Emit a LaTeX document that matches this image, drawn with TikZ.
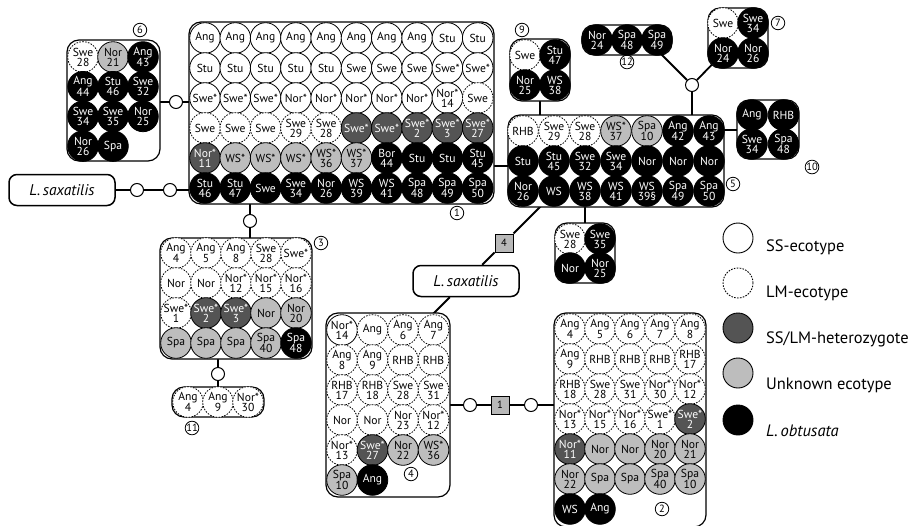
\documentclass[tikz,border=0pt]{standalone}
\usepackage{fontspec}
\setmainfont{PT Sans}
\usetikzlibrary{backgrounds,fit}
\definecolor{hetgray}{gray}{0.33}
\definecolor{unkgray}{gray}{0.74}
\definecolor{sqgray}{gray}{0.72}
\newcommand\cellfont{\fontsize{11.6}{10}\selectfont}
\newcommand\numfont{\fontsize{10.5}{11}\selectfont}
\newcommand\specfont{\fontsize{15.5}{16}\selectfont\itshape}
\newcommand\legfont{\fontsize{16.5}{18}\selectfont}
\newcommand\cellgrid[6]{%
  \foreach \row [count=\j] in {#6} {
    \foreach \st/\tx [count=\i] in \row {
      \node[cell,\st] (#1-\j-\i) at ({#2+(\i-1)*#4},{#3+(\j-1)*#5}) {\tx};
    }
  }%
}
\tikzset{
  cell/.style={circle, minimum size=30.6pt, inner sep=0pt, align=center, font=\cellfont, line width=0.8pt},
  ss/.style={draw=black, fill=white},
  lm/.style={draw=black, fill=white, dash pattern=on 1.6pt off 1.3pt},
  het/.style={draw=black, fill=hetgray, text=white},
  unk/.style={draw=black, fill=unkgray},
  obt/.style={draw=black, fill=black, text=white},
  grp/.style={draw=black, line width=1.2pt, rounded corners=12pt, fill=white, inner sep=0pt},
  conn/.style={line width=1.8pt},
  jn/.style={circle, draw, fill=white, line width=1pt, minimum size=13pt, inner sep=0pt},
  num/.style={circle, draw, line width=0.8pt, minimum size=13.5pt, inner sep=0pt, font=\numfont},
  spec/.style={draw, line width=1.5pt, rounded corners=8pt, fill=white, font=\specfont, minimum width=106pt, minimum height=31pt, inner sep=0pt},
  sq/.style={draw, fill=sqgray, line width=1pt, minimum size=18pt, inner sep=0pt, font=\numfont},
  legc/.style={circle, minimum size=30pt, inner sep=0pt, line width=0.9pt},
  legt/.style={anchor=west, font=\legfont, inner sep=0pt}
}
\begin{document}
\begin{tikzpicture}[x=1pt, y=-1pt]
\clip (0,0) rectangle (920,525);

% ---- group boxes ----
\node[grp, fit={(67,40) (160,161)}] (b6) {};
\node[grp, fit={(189,22) (494,204)}] (b1) {};
\node[grp, fit={(510,39) (570,101)}] (b9) {};
\node[grp, fit={(582,25) (672,55)}] (b12) {};
\node[grp, fit={(708,8) (768,68)}] (b7) {};
\node[grp, fit={(737,100) (799,159)}] (b10) {};
\node[grp, fit={(508,115) (724,207)}] (b5) {};
\node[grp, fit={(555,223) (615,283)}] (b8) {};
\node[grp, fit={(160,238) (312,359)}] (b3) {};
\node[grp, fit={(172,387) (264,417)}] (b11) {};
\node[grp, fit={(326,313) (450,497)}] (b4) {};
\node[grp, fit={(554,313) (706,527)}] (b2) {};

% ---- cells ----
\cellgrid{c6}{83}{57}{30}{29.7}{
 {lm/Swe\\28, unk/Nor\\21, obt/Ang\\43},
 {obt/Ang\\44, obt/Stu\\46, obt/Swe\\32},
 {obt/Swe\\34, obt/Swe\\35, obt/Nor\\25},
 {obt/Nor\\26, obt/Spa}}

\cellgrid{c1}{205}{38}{30.3}{30}{
 {ss/Ang, ss/Ang, ss/Ang, ss/Ang, ss/Ang, ss/Ang, ss/Ang, ss/Ang, ss/Stu, ss/Stu},
 {ss/Stu, ss/Stu, ss/Stu, ss/Stu, ss/Stu, ss/Swe, ss/Swe, ss/Swe, ss/Swe*, ss/Swe*},
 {ss/Swe*, ss/Swe*, ss/Swe*, ss/Nor*, ss/Nor*, ss/Nor*, ss/Nor*, ss/Nor*, ss/Nor*\\14, lm/Swe},
 {lm/Swe, lm/Swe, lm/Swe, lm/Swe\\29, lm/Swe\\28, het/Swe*, het/Swe*, het/Swe*\\2, het/Swe*\\3, het/Swe*\\27},
 {het/Nor*\\11, unk/WS*, unk/WS*, unk/WS*, unk/WS*\\36, unk/WS*\\37, obt/Bor\\44, obt/Stu, obt/Stu, obt/Stu\\45},
 {obt/Stu\\46, obt/Stu\\47, obt/Swe, obt/Swe\\34, obt/Nor\\26, obt/WS\\39, obt/WS\\41, obt/Spa\\48, obt/Spa\\49, obt/Spa\\50}}

\cellgrid{c9}{525}{55}{30}{30}{
 {lm/Swe, obt/Stu\\47},
 {obt/Nor\\25, obt/WS\\38}}

\cellgrid{c12}{597}{40}{30}{30}{
 {obt/Nor\\24, obt/Spa\\48, obt/Spa\\49}}

\cellgrid{c7}{723}{23}{30}{30}{
 {lm/Swe, obt/Swe\\34},
 {obt/Nor\\24, obt/Nor\\26}}

\cellgrid{c10}{752}{115}{31.5}{29}{
 {obt/Ang, obt/RHB},
 {obt/Swe\\34, obt/Spa\\48}}

\cellgrid{c5}{523}{131}{31}{30}{
 {lm/RHB, lm/Swe\\29, lm/Swe\\28, unk/WS*\\37, unk/Spa\\10, obt/Ang\\42, obt/Ang\\43},
 {obt/Stu, obt/Stu\\45, obt/Swe\\32, obt/Swe\\34, obt/Nor, obt/Nor, obt/Nor},
 {obt/Nor\\26, obt/WS, obt/WS\\38, obt/WS\\41, obt/WS\\39§, obt/Spa\\49, obt/Spa\\50}}

\cellgrid{c8}{570}{239}{30}{29}{
 {lm/Swe\\28, obt/Swe\\35},
 {obt/Nor, obt/Nor\\25}}

\cellgrid{c3}{176}{253}{30}{30}{
 {lm/Ang\\4, lm/Ang\\5, lm/Ang\\8, lm/Swe\\28, lm/Swe*},
 {lm/Nor, lm/Nor, lm/Nor*\\12, lm/Nor*\\15, lm/Nor*\\16},
 {lm/Swe*\\1, het/Swe*\\2, het/Swe*\\3, unk/Nor, unk/Nor\\20},
 {unk/Spa, unk/Spa, unk/Spa, unk/Spa\\40, obt/Spa\\48}}

\cellgrid{c11}{188}{402}{30}{30}{
 {lm/Ang\\4, lm/Ang\\9, lm/Nor*\\30}}

\cellgrid{c4}{342}{330}{30.5}{30}{
 {ss/Nor*\\14, lm/Ang, lm/Ang\\6, lm/Ang\\7},
 {lm/Ang\\8, lm/Ang\\9, lm/RHB, lm/RHB},
 {lm/RHB\\17, lm/RHB\\18, lm/Swe\\28, lm/Swe\\31},
 {lm/Nor, lm/Nor, lm/Nor\\23, lm/Nor*\\12},
 {lm/Nor*\\13, het/Swe*\\27, unk/Nor\\22, unk/WS*\\36},
 {unk/Spa\\10, obt/Ang}}

\cellgrid{c2}{570}{329}{30}{30}{
 {lm/Ang\\4, lm/Ang\\5, lm/Ang\\6, lm/Ang\\7, lm/Ang\\8},
 {lm/Ang\\9, lm/RHB, lm/RHB, lm/RHB, lm/RHB\\17},
 {lm/RHB\\18, lm/Swe\\28, lm/Swe\\31, lm/Nor*\\30, lm/Nor*\\12},
 {lm/Nor*\\13, lm/Nor*\\15, lm/Nor*\\16, lm/Swe*\\1, het/Swe*\\2},
 {het/Nor*\\11, unk/Nor, unk/Nor, unk/Nor\\20, unk/Nor\\21},
 {unk/Nor\\22, unk/Spa, unk/Spa, unk/Spa\\40, unk/Spa\\10},
 {obt/WS, obt/Ang}}

% ---- group numbers ----
\node[num] (n1) at (457,213) {1};
\node[num] (n2) at (662,509) {2};
\node[num] (n3) at (321,243) {3};
\node[num] (n4) at (411,474) {4};
\node[num] (n5) at (733,184) {5};
\node[num] (n6) at (140,30) {6};
\node[num] (n7) at (778,23) {7};
\node[num] (n9) at (522,30) {9};
\node[num] (n10) at (812,167) {10};
\node[num] (n11) at (192,428) {11};
\node[num] (n12) at (627,62) {12};

% ---- species boxes, junctions, squares ----
\node[spec] (ls1) at (62,190) {L.\,saxatilis};
\node[spec] (ls2) at (466,281) {L.\,saxatilis};
\node[sq] (sq4) at (504,243) {4};
\node[sq] (sq1) at (500,405) {1};
\node[jn] (j6) at (176,102) {};
\node[jn] (jl1) at (137,190) {};
\node[jn] (jl2) at (170,190) {};
\node[jn] (j3) at (250,221) {};
\node[jn] (j11) at (218,374) {};
\node[jn] (j2a) at (470,405) {};
\node[jn] (j2b) at (531,405) {};
\node[jn] (jt) at (692,85) {};
\coordinate (k15) at (500,166);
\coordinate (k10) at (730,130);
\coordinate (k12) at (650,43);
\coordinate (d5) at (548,199);
\coordinate (d4) at (430,317);

% ---- legend ----
\node[legc, ss] (lg1) at (738,238) {};
\node[legc, lm] (lg2) at (738,283) {};
\node[legc, het] (lg3) at (738,328) {};
\node[legc, unk] (lg4) at (738,373) {};
\node[legc, obt] (lg5) at (738,420) {};
\node[legt] (lt1) at (766,247) {SS-ecotype};
\node[legt] (lt2) at (766,293) {LM-ecotype};
\node[legt] (lt3) at (766,339) {SS/LM-heterozygote};
\node[legt] (lt4) at (766,385) {Unknown ecotype};
\node[legt] (lt5) at (766,431) {\itshape L.\,obtusata};

% ---- connectors ----
\begin{scope}[on background layer]
\fill[white] (0,0) rectangle (920,525);
\draw[conn] (b6.center |- j6) -- (j6) -- (b1.center |- j6);
\draw[conn] (ls1) -- (jl1) -- (jl2) -- (b1.center |- jl2);
\draw[conn] (b1.center -| j3) -- (j3) -- (b3.center -| j3);
\draw[conn] (b3.center -| j11) -- (j11) -- (b11.center -| j11);
\draw[conn] (b1.center |- k15) -- (b5.center |- k15);
\draw[conn] (b9.center) -- (b5.center -| b9.center);
\draw[conn] (k12) -- (jt) -- (b7.center);
\draw[conn] (jt) -- (b5.center -| jt);
\draw[conn] (b5.center |- k10) -- (b10.center |- k10);
\draw[conn] (b5.center -| b8.center) -- (b8.center);
\draw[conn] (d5) -- (sq4) -- (ls2) -- (d4);
\draw[conn] (b4.center |- j2a) -- (j2a) -- (sq1) -- (j2b) -- (b2.center |- j2b);
\end{scope}
\end{tikzpicture}
\end{document}
